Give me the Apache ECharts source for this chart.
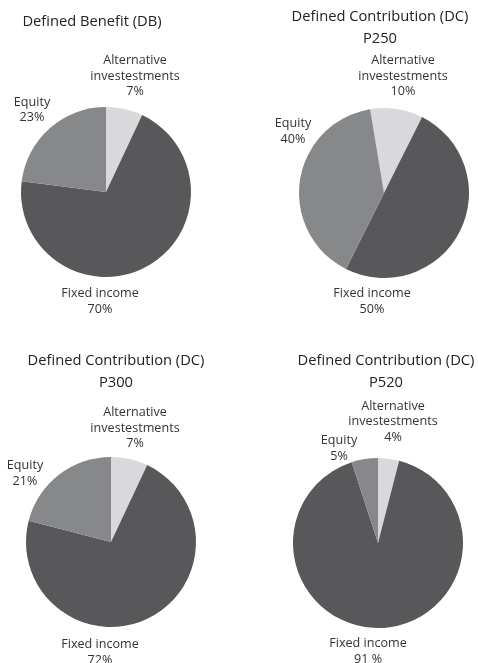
<!DOCTYPE html>
<html>
<head>
<meta charset="utf-8">
<script src="https://cdn.jsdelivr.net/npm/echarts@6/dist/echarts.min.js"></script>
<style>
html,body{margin:0;padding:0;background:#fff;}
#main{width:478px;height:663px;}
</style>
</head>
<body>
<div id="main"></div>
<script>
// Data
const categories = ['Alternative\ninvestestments', 'Fixed income', 'Equity'];
const titles = ['Defined Benefit (DB)', 'Defined Contribution (DC)\nP250', 'Defined Contribution (DC)\nP300', 'Defined Contribution (DC)\nP520'];
const valuesDB = [7, 70, 23];
const valuesP250 = [10, 50, 40];
const valuesP300 = [7, 72, 21];
const valuesP520 = [4, 91, 5];
const valueLabels = [
  ['7%', '70%', '23%'],
  ['10%', '50%', '40%'],
  ['7%', '72%', '21%'],
  ['4%', '91 %', '5%']
];

// Layout (not data)
const colors = ['#d9d9db', '#58585a', '#87888a'];
const centers = [[106, 192], [384, 193], [111, 542], [378, 543]];
const startAngles = [90, 99.4, 90, 90];
const radius = 85;
const titlePos = [[87, 6], [375, 1], [111, 345], [381, 345]];
// label block centre offsets relative to pie centre: [alt, fixed, equity]
const labelOffsets = [
  [[29, -116], [-6, 109.5], [-74, -82]],
  [[19, -117], [-12, 108.5], [-91, -61.5]],
  [[24, -114], [-11, 110.5], [-86, -68.5]],
  [[15, -121.5], [-10, 108.5], [-39, -94.5]]
];

const allValues = [valuesDB, valuesP250, valuesP300, valuesP520];
const FONT = 'Open Sans';

const chart = echarts.init(document.getElementById('main'), null, {renderer: 'canvas'});

const series = allValues.map((vals, si) => ({
  type: 'pie',
  radius: radius,
  center: centers[si],
  startAngle: startAngles[si],
  clockwise: true,
  silent: true,
  animation: false,
  avoidLabelOverlap: false,
  itemStyle: {borderWidth: 0},
  label: {
    show: true,
    position: 'outside',
    alignTo: 'none',
    overflow: 'none',
    formatter: p => p.name + '\n' + valueLabels[si][p.dataIndex],
    fontFamily: FONT,
    fontSize: 12.6,
    lineHeight: 15.5,
    color: '#333'
  },
  labelLine: {show: false},
  labelLayout: function (params) {
    const off = labelOffsets[si][params.dataIndex];
    return {
      x: centers[si][0] + off[0],
      y: centers[si][1] + off[1],
      align: 'center',
      verticalAlign: 'middle',
      hideOverlap: false
    };
  },
  data: vals.map((v, i) => ({name: categories[i], value: v, itemStyle: {color: colors[i]}}))
}));

const title = titles.map((t, i) => ({
  text: t,
  left: titlePos[i][0],
  top: titlePos[i][1],
  textAlign: 'center',
  textStyle: {fontFamily: FONT, fontSize: 14.7, fontWeight: 'normal', color: '#222', lineHeight: 22}
}));

chart.setOption({
  backgroundColor: '#fff',
  animation: false,
  title: title,
  series: series
});
</script>
</body>
</html>
